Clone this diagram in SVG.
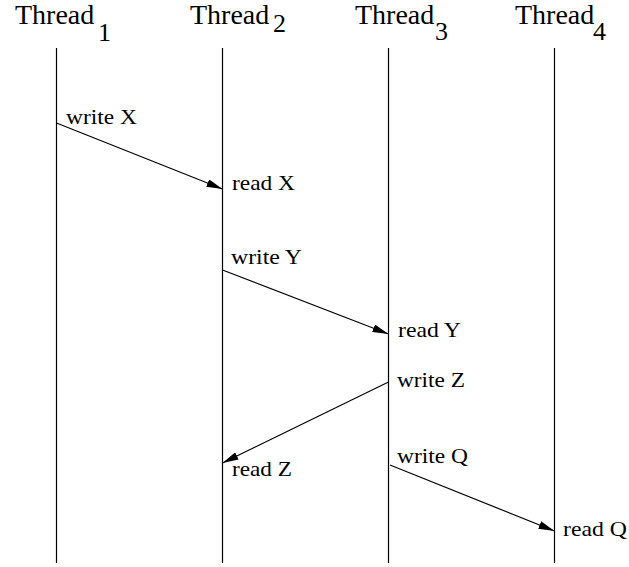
<svg xmlns="http://www.w3.org/2000/svg" width="629" height="567" viewBox="0 0 629 567">
<defs>
<marker id="ah" viewBox="0 0 16 8" refX="16" refY="4" markerWidth="16" markerHeight="8" markerUnits="userSpaceOnUse" orient="auto">
<path d="M0,0 L16,4 L0,8 Z" fill="#000"/>
</marker>
</defs>
<style>
.t{font-family:"Liberation Serif",serif;fill:#000}
.h{font-size:28px}
.s{font-size:26px}
.l{font-size:21.5px}
.ln{stroke:#000;stroke-width:1.2;fill:none}
.c{stroke:#000;stroke-width:1.2;fill:none;marker-end:url(#ah)}
</style>
<rect width="629" height="567" fill="#fff"/>
<g id="thread1">
<text class="t h" x="15" y="24">Thread</text><text class="t s" x="98" y="41">1</text>
<line class="ln" x1="56.5" y1="48" x2="56.5" y2="563"/>
</g>
<g id="thread2">
<text class="t h" x="190" y="24">Thread</text><text class="t s" x="273" y="32">2</text>
<line class="ln" x1="222.5" y1="48" x2="222.5" y2="563"/>
</g>
<g id="thread3">
<text class="t h" x="355" y="24">Thread</text><text class="t s" x="435" y="40">3</text>
<line class="ln" x1="388.5" y1="48" x2="388.5" y2="563"/>
</g>
<g id="thread4">
<text class="t h" x="515" y="24">Thread</text><text class="t s" x="593" y="40">4</text>
<line class="ln" x1="554.5" y1="48" x2="554.5" y2="563"/>
</g>
<g id="labels">
<text class="t l" x="66" y="124" textLength="71" lengthAdjust="spacingAndGlyphs">write X</text>
<text class="t l" x="232" y="190" textLength="63" lengthAdjust="spacingAndGlyphs">read X</text>
<text class="t l" x="231" y="264" textLength="71" lengthAdjust="spacingAndGlyphs">write Y</text>
<text class="t l" x="398" y="337" textLength="63" lengthAdjust="spacingAndGlyphs">read Y</text>
<text class="t l" x="397" y="387" textLength="68" lengthAdjust="spacingAndGlyphs">write Z</text>
<text class="t l" x="232" y="476" textLength="60" lengthAdjust="spacingAndGlyphs">read Z</text>
<text class="t l" x="397" y="463" textLength="71" lengthAdjust="spacingAndGlyphs">write Q</text>
<text class="t l" x="563" y="536" textLength="64" lengthAdjust="spacingAndGlyphs">read Q</text>
</g>
<g id="connectors">
<line class="c" x1="56.5" y1="123" x2="222.5" y2="189"/>
<line class="c" x1="222.5" y1="270" x2="388.5" y2="334"/>
<line class="c" x1="388.5" y1="382" x2="222.5" y2="463"/>
<line class="c" x1="390" y1="465" x2="554.5" y2="531"/>
</g>
</svg>
